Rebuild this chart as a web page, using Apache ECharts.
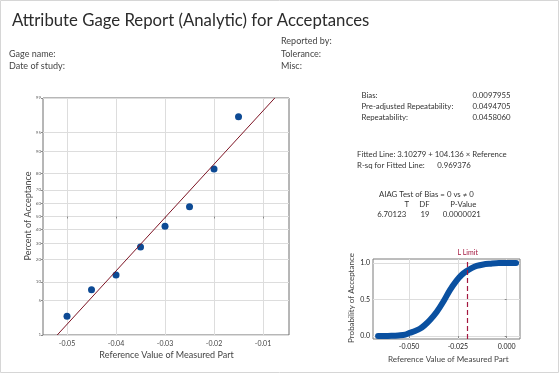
<!DOCTYPE html>
<html><head><meta charset="utf-8">
<script src="https://cdn.jsdelivr.net/npm/echarts@6/dist/echarts.min.js"></script>
<style>html,body{margin:0;padding:0;background:#fff}#c{width:559px;height:373px}</style>
</head><body><div id="c"></div>
<script>
// ---- data ----
const pctTicks = [1, 5, 10, 20, 30, 40, 50, 60, 70, 80, 90, 95, 99];
const mainXTicks = [-0.05, -0.04, -0.03, -0.02, -0.01];
const refValues = [-0.05, -0.045, -0.04, -0.035, -0.03, -0.025, -0.02, -0.015];
const pctAccept = [2.5, 7.5, 12.5, 27.5, 42.5, 57.5, 82.5, 97.5];
const fitLineX = [-0.0520, -0.0076];
const fitLinePct = [1, 99];
const curveX = [-0.0659, -0.062, -0.058, -0.0546, -0.052, -0.0496, -0.047, -0.0445, -0.042, -0.0393, -0.0359, -0.0325, -0.0291, -0.0257, -0.023, -0.0205, -0.018, -0.0154, -0.012, -0.0086, -0.004, 0.0, 0.0048];
const curveP = [0.0, 0.0, 0.005, 0.01, 0.02, 0.045, 0.07, 0.10, 0.15, 0.22, 0.33, 0.47, 0.63, 0.76, 0.84, 0.89, 0.93, 0.96, 0.98, 0.99, 1.0, 1.0, 1.0];
const smallXTicks = [-0.05, -0.025, 0];
const smallYTicks = [0, 0.5, 1];
const lLimit = -0.02;

// inverse normal (probability-scale transform)
function invNorm(p) {
  const a = [-3.969683028665376e+01, 2.209460984245205e+02, -2.759285104469687e+02, 1.383577518672690e+02, -3.066479806614716e+01, 2.506628277459239e+00];
  const b = [-5.447609879822406e+01, 1.615858368580409e+02, -1.556989798598866e+02, 6.680131188771972e+01, -1.328068155288572e+01];
  const c = [-7.784894002430293e-03, -3.223964580411365e-01, -2.400758277161838e+00, -2.549732539343734e+00, 4.374664141464968e+00, 2.938163982698783e+00];
  const d = [7.784695709041462e-03, 3.224671290700398e-01, 2.445134137142996e+00, 3.754408661907416e+00];
  const pl = 0.02425;
  let q, r;
  if (p < pl) { q = Math.sqrt(-2 * Math.log(p)); return (((((c[0]*q+c[1])*q+c[2])*q+c[3])*q+c[4])*q+c[5]) / ((((d[0]*q+d[1])*q+d[2])*q+d[3])*q+1); }
  if (p > 1 - pl) { q = Math.sqrt(-2 * Math.log(1 - p)); return -(((((c[0]*q+c[1])*q+c[2])*q+c[3])*q+c[4])*q+c[5]) / ((((d[0]*q+d[1])*q+d[2])*q+d[3])*q+1); }
  q = p - 0.5; r = q * q;
  return (((((a[0]*r+a[1])*r+a[2])*r+a[3])*r+a[4])*r+a[5])*q / (((((b[0]*r+b[1])*r+b[2])*r+b[3])*r+b[4])*r+1);
}
const z = pct => invNorm(pct / 100);
const zTicks = pctTicks.map(z);
const zMin = z(1), zMax = z(99);

const FONT = 'Lato, "Open Sans", sans-serif';
const txt = (text, x, y, size, opts) => ({
  type: 'text', silent: true,
  style: Object.assign({ text: text, x: x, y: y, fontSize: size, fontFamily: FONT, fill: '#333', textVerticalAlign: 'middle', textAlign: 'left' }, (opts || {}))
});
const rtxt = (text, x, y, size, fill) => ({
  type: 'text', silent: true, x: x, y: y, rotation: Math.PI / 2,
  style: { text: text, x: 0, y: 0, fontSize: size, fontFamily: FONT, fill: fill, textAlign: 'center', textVerticalAlign: 'middle' }
});
const RT = 7.8;

const chart = echarts.init(document.getElementById('c'), null, { renderer: 'canvas' });
chart.setOption({
  animation: false,
  backgroundColor: '#fff',
  grid: [
    { left: 43, top: 98, width: 246, height: 237, show: true, borderColor: '#6e6e6e', borderWidth: 1, containLabel: false },
    { left: 373, top: 259, width: 147, height: 80, show: true, borderColor: '#7a7a7a', borderWidth: 1, containLabel: false }
  ],
  xAxis: [
    { gridIndex: 0, type: 'value', min: -0.0549, max: -0.0047,
      axisLine: { show: false },
      axisTick: { show: true, length: 2, customValues: mainXTicks, lineStyle: { color: '#888' } },
      axisLabel: { customValues: mainXTicks, fontSize: 7, color: '#444', fontFamily: FONT, margin: 5, formatter: v => v.toFixed(2) },
      splitLine: { show: true, lineStyle: { color: '#dddddd', width: 1 } } },
    { gridIndex: 1, type: 'value', min: -0.0685, max: 0.0068,
      axisLine: { show: false },
      axisTick: { show: true, length: 2, customValues: smallXTicks, lineStyle: { color: '#888' } },
      axisLabel: { customValues: smallXTicks, fontSize: 7, color: '#222', fontFamily: FONT, margin: 4, formatter: v => v.toFixed(3) },
      splitLine: { show: true, lineStyle: { color: '#dddddd', width: 1 } } }
  ],
  yAxis: [
    { gridIndex: 0, type: 'value', min: zMin, max: zMax,
      axisLine: { show: false },
      axisTick: { show: true, length: 2, customValues: zTicks, lineStyle: { color: '#888' } },
      axisLabel: { customValues: zTicks, fontSize: 4.5, color: '#666', fontFamily: FONT, margin: 2,
        formatter: v => { let best = 0; zTicks.forEach((t, i) => { if (Math.abs(t - v) < Math.abs(zTicks[best] - v)) best = i; }); return String(pctTicks[best]); } },
      splitLine: { show: true, lineStyle: { color: '#dddddd', width: 1 } } },
    { gridIndex: 1, type: 'value', min: -0.04, max: 1.055,
      axisLine: { show: false },
      axisTick: { show: true, length: 2, customValues: smallYTicks, lineStyle: { color: '#888' } },
      axisLabel: { customValues: smallYTicks, fontSize: 7, color: '#222', fontFamily: FONT, margin: 3, formatter: v => v.toFixed(1) },
      splitLine: { show: true, lineStyle: { color: '#dddddd', width: 1 } } }
  ],
  series: [
    { type: 'line', xAxisIndex: 0, yAxisIndex: 0, silent: true, symbol: 'none', clip: true,
      data: fitLineX.map((x, i) => [x, z(fitLinePct[i])]),
      lineStyle: { color: '#7d1424', width: 1 } },
    { type: 'scatter', xAxisIndex: 0, yAxisIndex: 0, silent: true, symbol: 'circle', symbolSize: 7,
      data: refValues.map((x, i) => [x, z(pctAccept[i])]),
      itemStyle: { color: '#0d4a94', opacity: 1 } },
    { type: 'line', xAxisIndex: 1, yAxisIndex: 1, silent: true, symbol: 'none', smooth: 0.3,
      data: curveX.map((x, i) => [x, curveP[i]]),
      lineStyle: { color: '#0a50a0', width: 6, cap: 'round', join: 'round' },
      markLine: { silent: true, symbol: 'none', animation: false,
        lineStyle: { color: '#a3173f', type: [5, 3], width: 1.2 },
        label: { show: true, position: 'end', formatter: 'L Limit', color: '#a3173f', fontSize: 7, fontFamily: FONT, distance: 3 },
        data: [{ xAxis: lLimit }] } }
  ],
  graphic: [
    { type: 'rect', silent: true, shape: { x: 0.5, y: 0.5, width: 558, height: 372 }, style: { fill: 'none', stroke: '#d6d6d6', lineWidth: 1 } },
    txt('Attribute Gage Report (Analytic) for Acceptances', 12, 21, 16.75, { fill: '#2b2b2b' }),
    txt('Reported by:', 281, 41, 9, { fill: '#444' }),
    txt('Gage name:', 9, 54, 9, { fill: '#444' }),
    txt('Tolerance:', 281, 54, 9, { fill: '#444' }),
    txt('Date of study:', 9, 66, 9, { fill: '#444' }),
    txt('Misc:', 281, 66, 9, { fill: '#444' }),
    rtxt('Percent of Acceptance', 28, 216, 9, '#444'),
    txt('Reference Value of Measured Part', 166.5, 355.5, 9, { fill: '#444', textAlign: 'center' }),
    txt('Bias:', 361.5, 95.7, RT),
    txt('0.0097955', 510.5, 95.7, RT, { textAlign: 'right' }),
    txt('Pre-adjusted Repeatability:', 361.5, 106.2, RT),
    txt('0.0494705', 510.5, 106.2, RT, { textAlign: 'right' }),
    txt('Repeatability:', 361.5, 117.2, RT),
    txt('0.0458060', 510.5, 117.2, RT, { textAlign: 'right' }),
    txt('Fitted Line: 3.10279 + 104.136 \u00d7 Reference', 357, 154.7, RT),
    txt('R-sq for Fitted Line:', 357, 165, RT),
    txt('0.969376', 437.3, 165, RT),
    txt('AIAG Test of Bias = 0 vs \u2260 0', 379, 194.3, RT),
    txt('T', 406.7, 204.3, RT, { textAlign: 'center' }),
    txt('DF', 424.5, 204.3, RT, { textAlign: 'center' }),
    txt('P-Value', 463.3, 204.3, RT, { textAlign: 'center' }),
    txt('6.70123', 391.7, 214.3, RT, { textAlign: 'center' }),
    txt('19', 425, 214.3, RT, { textAlign: 'center' }),
    txt('0.0000021', 461.7, 214.3, RT, { textAlign: 'center' }),
    rtxt('Probability of Acceptance', 351.7, 298, 8, '#444'),
    txt('Reference Value of Measured Part', 448.3, 359.3, 8.1, { fill: '#444', textAlign: 'center' })
  ]
});
</script>
</body></html>
